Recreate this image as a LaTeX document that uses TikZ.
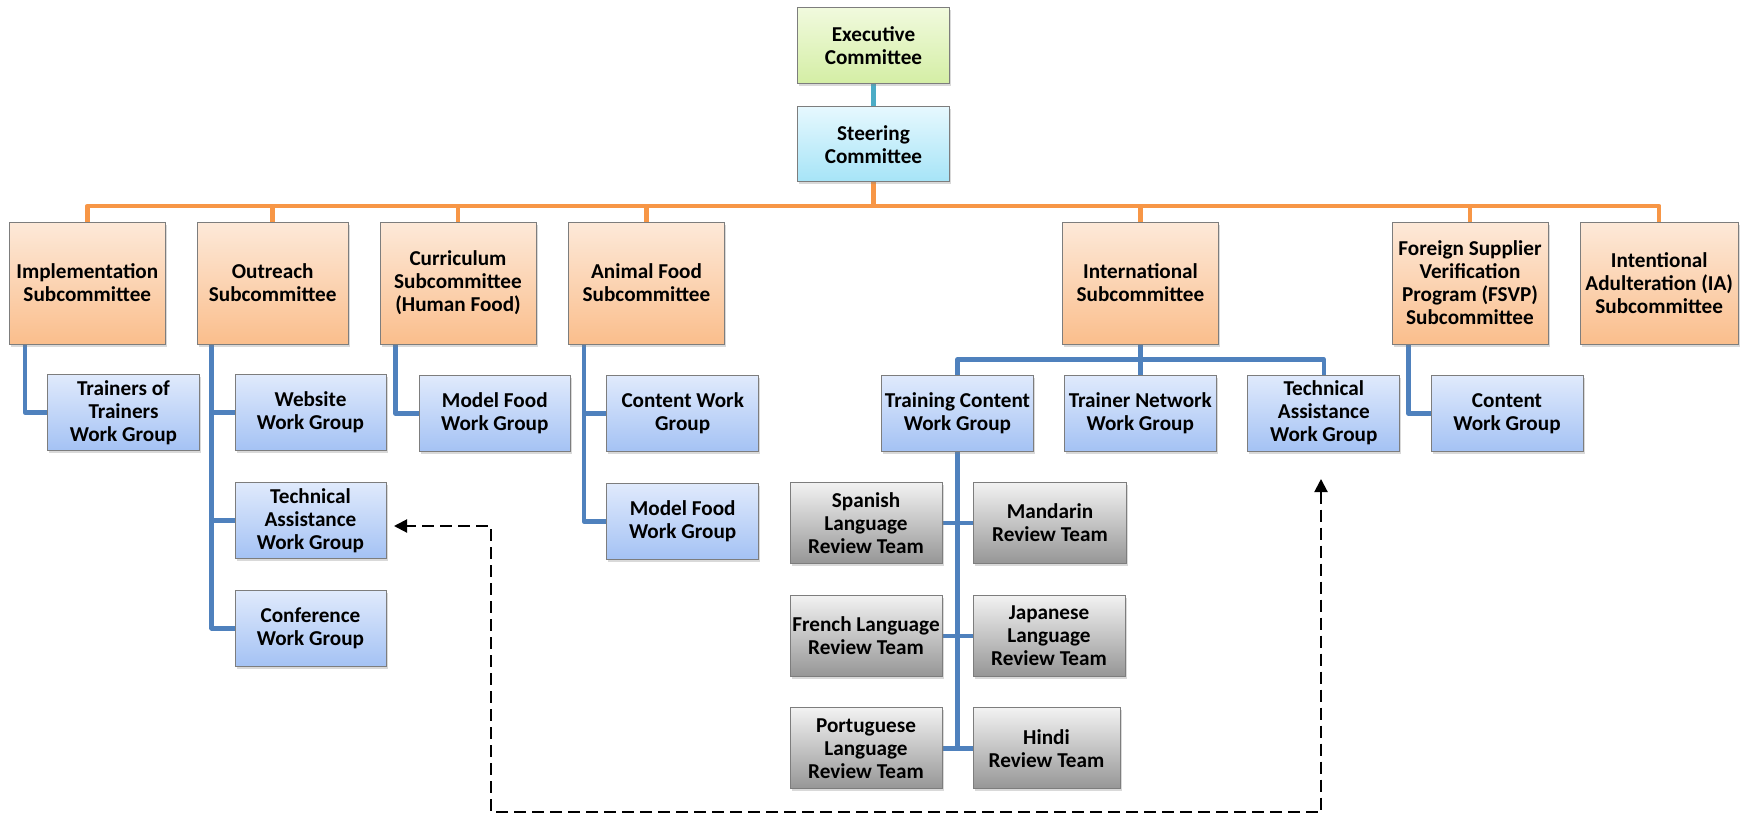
\documentclass[tikz,border=0pt]{standalone}
\usepackage{fontspec}
\setmainfont{Carlito}
\usetikzlibrary{shadows,arrows.meta,calc}
\pgfdeclarelayer{bg}
\pgfsetlayers{bg,main}
\definecolor{borderc}{RGB}{125,125,125}
\definecolor{orangetop}{RGB}{253,233,217}
\definecolor{orangebot}{RGB}{250,190,140}
\definecolor{bluetop}{RGB}{224,234,252}
\definecolor{bluebot}{RGB}{164,194,244}
\definecolor{graytop}{RGB}{242,242,242}
\definecolor{graybot}{RGB}{150,150,150}
\definecolor{greentop}{RGB}{241,250,222}
\definecolor{greenbot}{RGB}{212,238,165}
\definecolor{cyantop}{RGB}{230,248,254}
\definecolor{cyanbot}{RGB}{166,228,247}
\definecolor{oline}{RGB}{247,150,70}
\definecolor{bline}{RGB}{79,129,189}
\definecolor{tline}{RGB}{75,172,198}
\tikzset{
  box/.style={draw=borderc, line width=1pt, inner sep=1pt, align=center,
    font=\fontsize{21.2}{23}\selectfont\bfseries,
    drop shadow={shadow xshift=1.5pt, shadow yshift=-2.5pt, opacity=0.3}},
  subbox/.style={box, top color=orangetop, bottom color=orangebot, minimum width=156pt, minimum height=122pt},
  wgbox/.style={box, top color=bluetop, bottom color=bluebot, minimum width=152pt, minimum height=76pt},
  teambox/.style={box, top color=graytop, bottom color=graybot, minimum width=152pt, minimum height=81pt},
  olink/.style={draw=oline, line width=4.5pt},
  blink/.style={draw=bline, line width=4.5pt},
  tlink/.style={draw=tline, line width=5pt},
  dlink/.style={draw=black, line width=2pt, dash pattern=on 12pt off 6pt,
    {Triangle[length=13pt,width=13pt]}-{Triangle[length=13pt,width=13pt]}}
}
\begin{document}
\begin{tikzpicture}[x=1pt,y=-1pt]
\useasboundingbox (0,0) rectangle (1745,814);
% top
\node[box, top color=greentop, bottom color=greenbot, minimum width=152pt, minimum height=76pt] (exec) at (873.5,45.3) {Executive\\Committee};
\node[box, top color=cyantop, bottom color=cyanbot, minimum width=152pt, minimum height=75pt] (steer) at (873.5,144.2) {Steering\\Committee};
% subcommittees
\node[subbox] (impl) at (87.3,283) {Implementation\\Subcommittee};
\node[subbox, minimum width=151pt] (out) at (272.7,283) {Outreach\\Subcommittee};
\node[subbox] (cur) at (458,283) {Curriculum\\Subcommittee\\(Human Food)};
\node[subbox] (ani) at (646.5,283) {Animal Food\\Subcommittee};
\node[subbox] (intl) at (1140.5,283) {International\\Subcommittee};
\node[subbox] (fsvp) at (1470,283) {Foreign Supplier\\Verification\\Program (FSVP)\\Subcommittee};
\node[subbox, minimum width=158pt] (ia) at (1659.2,283) {Intentional\\Adulteration (IA)\\Subcommittee};
% work groups
\node[wgbox] (tot) at (123.5,412.5) {Trainers of\\Trainers\\Work Group};
\node[wgbox, minimum width=151pt] (web) at (310.5,412.5) {Website\\Work Group};
\node[wgbox, minimum width=151pt] (ta1) at (310.5,520.3) {Technical\\Assistance\\Work Group};
\node[wgbox, minimum width=151pt] (conf) at (310.5,628.3) {Conference\\Work Group};
\node[wgbox, minimum width=151pt] (mf1) at (494.8,413.7) {Model Food\\Work Group};
\node[wgbox] (cwg) at (682.7,413.7) {Content Work\\Group};
\node[wgbox] (mf2) at (682.7,521.3) {Model Food\\Work Group};
\node[wgbox] (tc) at (957.5,413) {Training Content\\Work Group};
\node[wgbox] (tn) at (1140.3,413) {Trainer Network\\Work Group};
\node[wgbox] (ta2) at (1323.8,413) {Technical\\Assistance\\Work Group};
\node[wgbox] (cwg2) at (1507,413.5) {Content\\Work Group};
% review teams
\node[teambox] (spa) at (866,523) {Spanish\\Language\\Review Team};
\node[teambox, minimum width=153pt] (man) at (1050,523) {Mandarin\\Review Team};
\node[teambox] (fre) at (866,635.8) {French Language\\Review Team};
\node[teambox] (jap) at (1049,635.8) {Japanese\\Language\\Review Team};
\node[teambox] (por) at (866,748.3) {Portuguese\\Language\\Review Team};
\node[teambox, minimum width=147pt] (hin) at (1046.5,748.3) {Hindi\\Review Team};
% dashed link coordinates
\coordinate (dA) at (1321,479);
\coordinate (dC) at (1321,812);
\coordinate (dD) at (491,812);
\coordinate (dB) at (394,526);
\coordinate (obar) at (0,206);
\coordinate (ibar) at (0,359.3);
\begin{pgfonlayer}{bg}
\draw[tlink] (exec.south) -- (steer.north);
\draw[olink] (steer.south) -- (steer.south |- obar);
\draw[olink, line join=round] (impl.north) -- (impl.north |- obar) -- (ia.north |- obar) -- (ia.north);
\foreach \n in {out,cur,ani,intl,fsvp}{\draw[olink] (\n.north) -- (\n.north |- obar);}
% blue
\draw[blink, line join=round] ([xshift=16pt]impl.south west) |- (tot.west);
\coordinate (os) at ([xshift=15pt]out.south west);
\draw[blink, line join=round] (os) |- (conf.west);
\draw[blink] (web.west) -- (web.west -| os);
\draw[blink] (ta1.west) -- (ta1.west -| os);
\draw[blink, line join=round] ([xshift=16pt]cur.south west) |- (mf1.west);
\coordinate (as) at ([xshift=16pt]ani.south west);
\draw[blink, line join=round] (as) |- (mf2.west);
\draw[blink] (cwg.west) -- (cwg.west -| as);
\draw[blink, line join=round] ([xshift=17pt]fsvp.south west) |- (cwg2.west);
\draw[blink] (intl.south) -- (intl.south |- ibar);
\draw[blink, line join=round] (tc.north) -- (tc.north |- ibar) -- (ta2.north |- ibar) -- (ta2.north);
\draw[blink] (tn.north) -- (tn.north |- ibar);
\draw[blink] (tc.south) -- (tc.south |- por.east);
\draw[blink] (spa.east) -- (man.west);
\draw[blink] (fre.east) -- (jap.west);
\draw[blink] (por.east) -- (hin.west);
\end{pgfonlayer}
\draw[dlink] (dA) -- (dC) -- (dD) -- (dD |- dB) -- (dB);
\end{tikzpicture}
\end{document}
